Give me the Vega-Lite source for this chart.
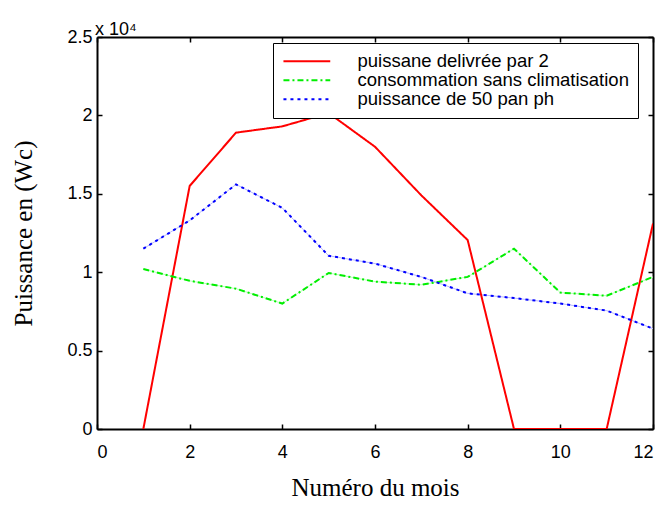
{
  "$schema": "https://vega.github.io/schema/vega-lite/v6.json",
  "width": 556,
  "height": 392,
  "autosize": {"type": "none"},
  "padding": {"left": 97, "top": 37, "right": 12, "bottom": 77},
  "background": "white",
  "title": {"text": "x 10⁴", "anchor": "start", "frame": "group", "font": "Liberation Sans", "fontSize": 18, "fontWeight": "normal", "color": "black", "offset": -11, "dx": -2},
  "config": {
    "view": {"stroke": null},
    "axis": {"grid": false, "domainColor": "black", "domainWidth": 2, "tickColor": "black", "tickWidth": 1.5, "tickSize": -5, "labelFont": "Liberation Sans", "labelFontSize": 18, "labelColor": "black", "titleFont": "Liberation Serif", "titleFontSize": 25, "titleFontWeight": "normal", "titleColor": "black"}
  },
  "data": {"values": [
    {"mois": 1, "serie": "puissane delivrée par 2", "valeur": 0},
    {"mois": 2, "serie": "puissane delivrée par 2", "valeur": 15500},
    {"mois": 3, "serie": "puissane delivrée par 2", "valeur": 18900},
    {"mois": 4, "serie": "puissane delivrée par 2", "valeur": 19300},
    {"mois": 5, "serie": "puissane delivrée par 2", "valeur": 20150},
    {"mois": 6, "serie": "puissane delivrée par 2", "valeur": 18000},
    {"mois": 7, "serie": "puissane delivrée par 2", "valeur": 14900},
    {"mois": 8, "serie": "puissane delivrée par 2", "valeur": 12050},
    {"mois": 9, "serie": "puissane delivrée par 2", "valeur": 0},
    {"mois": 10, "serie": "puissane delivrée par 2", "valeur": 0},
    {"mois": 11, "serie": "puissane delivrée par 2", "valeur": 0},
    {"mois": 12, "serie": "puissane delivrée par 2", "valeur": 13100},
    {"mois": 1, "serie": "consommation sans climatisation", "valeur": 10200},
    {"mois": 2, "serie": "consommation sans climatisation", "valeur": 9450},
    {"mois": 3, "serie": "consommation sans climatisation", "valeur": 8950},
    {"mois": 4, "serie": "consommation sans climatisation", "valeur": 8000},
    {"mois": 5, "serie": "consommation sans climatisation", "valeur": 9950},
    {"mois": 6, "serie": "consommation sans climatisation", "valeur": 9400},
    {"mois": 7, "serie": "consommation sans climatisation", "valeur": 9200},
    {"mois": 8, "serie": "consommation sans climatisation", "valeur": 9700},
    {"mois": 9, "serie": "consommation sans climatisation", "valeur": 11500},
    {"mois": 10, "serie": "consommation sans climatisation", "valeur": 8700},
    {"mois": 11, "serie": "consommation sans climatisation", "valeur": 8500},
    {"mois": 12, "serie": "consommation sans climatisation", "valeur": 9700},
    {"mois": 1, "serie": "puissance de 50 pan ph", "valeur": 11500},
    {"mois": 2, "serie": "puissance de 50 pan ph", "valeur": 13300},
    {"mois": 3, "serie": "puissance de 50 pan ph", "valeur": 15600},
    {"mois": 4, "serie": "puissance de 50 pan ph", "valeur": 14100},
    {"mois": 5, "serie": "puissance de 50 pan ph", "valeur": 11050},
    {"mois": 6, "serie": "puissance de 50 pan ph", "valeur": 10550},
    {"mois": 7, "serie": "puissance de 50 pan ph", "valeur": 9700},
    {"mois": 8, "serie": "puissance de 50 pan ph", "valeur": 8650},
    {"mois": 9, "serie": "puissance de 50 pan ph", "valeur": 8350},
    {"mois": 10, "serie": "puissance de 50 pan ph", "valeur": 8000},
    {"mois": 11, "serie": "puissance de 50 pan ph", "valeur": 7550},
    {"mois": 12, "serie": "puissance de 50 pan ph", "valeur": 6400}
  ]},
  "layer": [
    {
      "transform": [{"filter": "datum.serie != 'puissane delivrée par 2'"}],
      "mark": {"type": "line", "strokeWidth": 1, "clip": true},
      "encoding": {
        "x": {"field": "mois", "type": "quantitative", "scale": {"domain": [0, 12], "nice": false}, "axis": null},
        "y": {"field": "valeur", "type": "quantitative", "scale": {"domain": [0, 25000], "nice": false}, "axis": null},
        "stroke": {"field": "serie", "type": "nominal", "scale": {"domain": ["consommation sans climatisation", "puissance de 50 pan ph"], "range": ["#b8ffb8", "#b8b8ff"]}, "legend": null}
      }
    },
    {
      "mark": {"type": "line", "strokeWidth": 2, "clip": true},
      "encoding": {
        "x": {"field": "mois", "type": "quantitative", "scale": {"domain": [0, 12], "nice": false},
              "axis": {"values": [0, 2, 4, 6, 8, 10, 12], "title": "Numéro du mois", "labelFontSize": 18, "labelPadding": 19, "titlePadding": 14}},
        "y": {"field": "valeur", "type": "quantitative", "scale": {"domain": [0, 25000], "nice": false},
              "axis": {"values": [0, 5000, 10000, 15000, 20000, 25000], "labelExpr": "datum.value / 10000", "title": "Puissance en (Wc)", "labelFontSize": 18, "labelPadding": 10, "titlePadding": 30}},
        "color": {"field": "serie", "type": "nominal", "sort": null,
          "scale": {"domain": ["puissane delivrée par 2", "consommation sans climatisation", "puissance de 50 pan ph"], "range": ["#ff0000", "#00ee00", "#0000ff"]},
          "legend": {"title": null, "orient": "none", "legendX": 176, "legendY": 6, "padding": 9, "strokeColor": "black", "fillColor": "white",
            "symbolType": "M-1.3,0H6.5", "symbolSize": 144, "symbolStrokeWidth": 2, "labelFont": "Liberation Sans", "labelFontSize": 18.5, "labelColor": "black", "labelOffset": 57, "rowPadding": 0, "labelLimit": 400}},
        "strokeDash": {"field": "serie", "type": "nominal", "sort": null,
          "scale": {"domain": ["puissane delivrée par 2", "consommation sans climatisation", "puissance de 50 pan ph"], "range": [[1, 0], [6, 3, 2, 3], [3, 4]]},
          "legend": {"title": null, "orient": "none", "legendX": 176, "legendY": 6, "padding": 9, "strokeColor": "black", "fillColor": "white",
            "symbolType": "M-1.3,0H6.5", "symbolSize": 144, "symbolStrokeWidth": 2, "labelFont": "Liberation Sans", "labelFontSize": 18.5, "labelColor": "black", "labelOffset": 57, "rowPadding": 0, "labelLimit": 400}}
      }
    },
    {
      "mark": {"type": "point", "opacity": 0},
      "encoding": {
        "x": {"field": "mois", "type": "quantitative", "scale": {"domain": [0, 12], "nice": false},
              "axis": {"orient": "top", "values": [0, 2, 4, 6, 8, 10, 12], "labels": false, "title": null}},
        "y": {"field": "valeur", "type": "quantitative", "scale": {"domain": [0, 25000], "nice": false},
              "axis": {"orient": "right", "values": [0, 5000, 10000, 15000, 20000, 25000], "labels": false, "title": null}}
      }
    }
  ],
  "resolve": {"axis": {"x": "independent", "y": "independent"}}
}
